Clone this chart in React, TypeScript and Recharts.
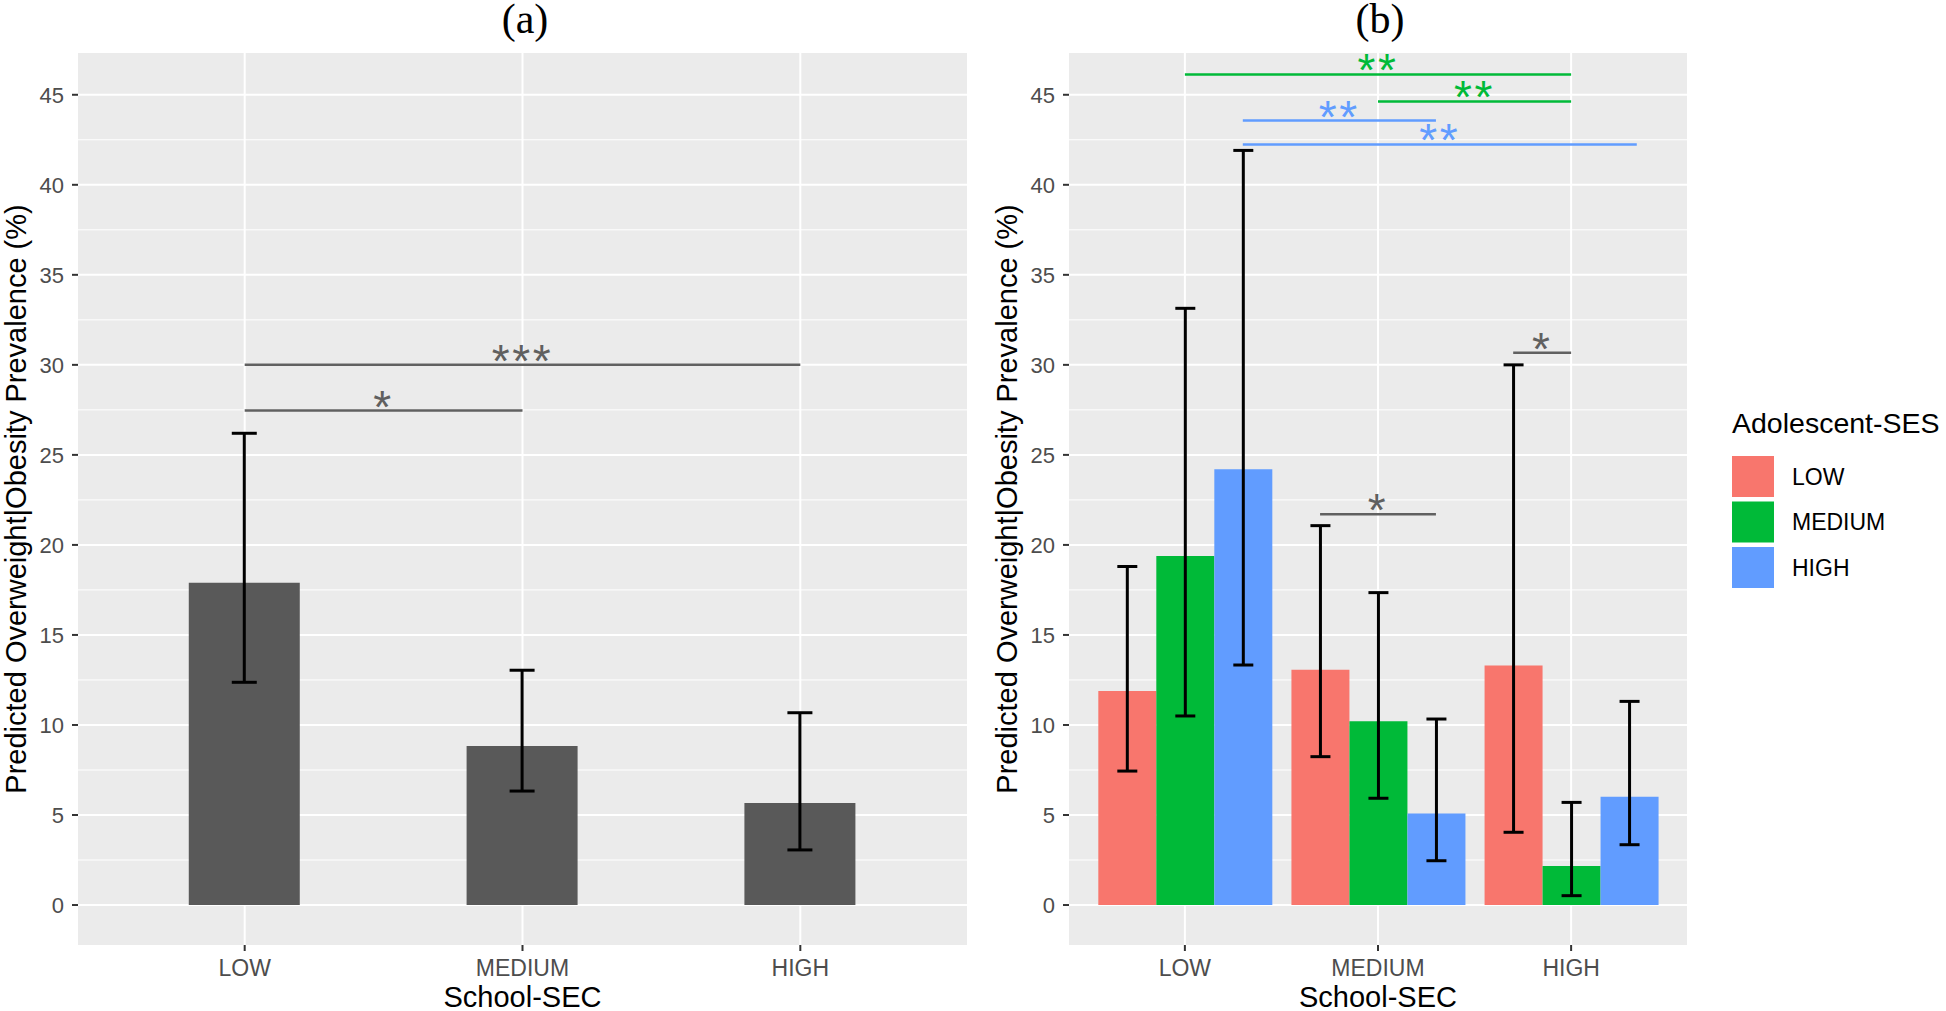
import React from "react";
import { Bar, CartesianGrid, ComposedChart, ErrorBar, Label, ReferenceLine, XAxis, YAxis } from "recharts";

const SANS = '"Liberation Sans", Arial, Helvetica, sans-serif';
const SERIF = '"Liberation Serif", "Times New Roman", serif';

// categories
const SCHOOL_SEC = ["LOW", "MEDIUM", "HIGH"];
const SCHOOL_X = [1, 2, 3];
const SES = ["LOW", "MEDIUM", "HIGH"];

// axis ticks
const Y_MAJOR = [0, 5, 10, 15, 20, 25, 30, 35, 40, 45];
const Y_MINOR = [2.5, 7.5, 12.5, 17.5, 22.5, 27.5, 32.5, 37.5, 42.5];

// (a) overall predicted prevalence + 95% CI
const overallPred = [17.9, 8.83, 5.67];
const overallLow = [12.37, 6.33, 3.06];
const overallHigh = [26.2, 13.04, 10.68];

// (b) by adolescent SES
const lowSesPred = [11.89, 13.06, 13.3];
const lowSesLow = [7.44, 8.24, 4.04];
const lowSesHigh = [18.8, 21.07, 30.0];
const medSesPred = [19.39, 10.2, 2.17];
const medSesLow = [10.5, 5.93, 0.52];
const medSesHigh = [33.14, 17.35, 5.7];
const highSesPred = [24.2, 5.09, 6.02];
const highSesLow = [13.33, 2.46, 3.35];
const highSesHigh = [41.91, 10.33, 11.31];

// significance brackets (xmin/xmax on the School-SEC axis, ses: which colour group, -1 = none)
const bracketsA = [
  { xmin: 1, xmax: 2, y: 27.46, label: "*", ses: -1 },
  { xmin: 1, xmax: 3, y: 30.0, label: "***", ses: -1 },
];
const bracketsB = [
  { xmin: 1, xmax: 3, y: 46.13, label: "**", ses: 1 },
  { xmin: 2, xmax: 3, y: 44.63, label: "**", ses: 1 },
  { xmin: 1.3, xmax: 2.3, y: 43.57, label: "**", ses: 2 },
  { xmin: 1.3, xmax: 3.34, y: 42.24, label: "**", ses: 2 },
  { xmin: 2.7, xmax: 3.0, y: 30.67, label: "*", ses: -1 },
  { xmin: 1.7, xmax: 2.3, y: 21.7, label: "*", ses: -1 },
];

const SES_COLORS = ["#F8766D", "#00BA38", "#619CFF"];
const GREY_BAR = "#595959";
const GREY_SIG = "#606060";
const PANEL_BG = "#EBEBEB";
const Y_DOMAIN: [number, number] = [-2.22, 47.32];
const X_DOMAIN: [number, number] = [0.4, 3.6];

const errOf = (p: number, lo: number, hi: number) => [p - lo, hi - p];

const dataA = SCHOOL_SEC.map((name, i) => ({
  x: SCHOOL_X[i],
  name,
  pred: overallPred[i],
  err: errOf(overallPred[i], overallLow[i], overallHigh[i]),
}));

const dataB = SCHOOL_SEC.map((name, i) => ({
  x: SCHOOL_X[i],
  name,
  low: lowSesPred[i],
  lowErr: errOf(lowSesPred[i], lowSesLow[i], lowSesHigh[i]),
  med: medSesPred[i],
  medErr: errOf(medSesPred[i], medSesLow[i], medSesHigh[i]),
  high: highSesPred[i],
  highErr: errOf(highSesPred[i], highSesLow[i], highSesHigh[i]),
}));

const starLabel = (text: string, color: string) => (props: any) => {
  const vb = props.viewBox || {};
  return (
    <text
      x={vb.x + vb.width / 2}
      y={vb.y + 12}
      textAnchor="middle"
      fill={color}
      fontSize={46}
      letterSpacing={2.6}
      fontFamily={SANS}
    >
      {text}
    </text>
  );
};

const yTitle = (props: any) => {
  const vb = props.viewBox || {};
  const cx = vb.x + vb.width - 62;
  const cy = vb.y + vb.height / 2;
  return (
    <text
      x={cx}
      y={cy}
      transform={`rotate(-90, ${cx}, ${cy})`}
      textAnchor="middle"
      dominantBaseline="central"
      fontSize={29}
      fill="#000"
      fontFamily={SANS}
    >
      Predicted Overweight|Obesity Prevalence (%)
    </text>
  );
};

const xTitle = (props: any) => {
  const vb = props.viewBox || {};
  return (
    <text x={vb.x + vb.width / 2} y={vb.y + vb.height - 4} textAnchor="middle" fontSize={29} fill="#000" fontFamily={SANS}>
      School-SEC
    </text>
  );
};

function axes(yWidth: number) {
  return [
    <CartesianGrid key="gmin" fill={PANEL_BG} stroke="#fff" strokeWidth={1} vertical={false} horizontalValues={Y_MINOR} />,
    <CartesianGrid key="gmaj" stroke="#fff" strokeWidth={2} horizontalValues={Y_MAJOR} verticalValues={SCHOOL_X} />,
    <XAxis
      key="x"
      type="number"
      dataKey="x"
      domain={X_DOMAIN}
      ticks={SCHOOL_X}
      interval={0}
      allowDataOverflow
      tickFormatter={(v) => SCHOOL_SEC[v - 1]}
      height={66}
      tickSize={6}
      tickMargin={9}
      axisLine={false}
      tickLine={{ stroke: "#333", strokeWidth: 2 }}
      tick={{ fontSize: 23, fill: "#4d4d4d", fontFamily: SANS }}
    >
      <Label content={xTitle} />
    </XAxis>,
    <YAxis
      key="y"
      type="number"
      domain={Y_DOMAIN}
      ticks={Y_MAJOR}
      interval={0}
      allowDataOverflow
      width={yWidth}
      tickSize={6}
      tickMargin={8}
      axisLine={false}
      tickLine={{ stroke: "#333", strokeWidth: 2 }}
      tick={{ fontSize: 22, fill: "#4d4d4d", fontFamily: SANS }}
    >
      <Label content={yTitle} />
    </YAxis>,
  ];
}

function brackets(list: typeof bracketsA) {
  return list.map((b, i) => {
    const color = b.ses < 0 ? GREY_SIG : SES_COLORS[b.ses];
    return (
      <ReferenceLine
        key={`br${i}`}
        segment={[
          { x: b.xmin, y: b.y },
          { x: b.xmax, y: b.y },
        ]}
        stroke={color}
        strokeWidth={2.5}
        ifOverflow="visible"
        label={starLabel(b.label, color)}
      />
    );
  });
}

function PanelA() {
  return (
    <ComposedChart width={980} height={1011} data={dataA} margin={{ top: 53, right: 13, bottom: 0, left: 0 }}>
      {axes(78)}
      <Bar dataKey="pred" fill={GREY_BAR} barSize={111} isAnimationActive={false}>
        <ErrorBar dataKey="err" direction="y" width={12.5} stroke="#000" strokeWidth={3} />
      </Bar>
      {brackets(bracketsA)}
    </ComposedChart>
  );
}

function PanelB() {
  return (
    <ComposedChart width={966} height={1011} data={dataB} barGap={0} margin={{ top: 53, right: 259, bottom: 0, left: 0 }}>
      {axes(89)}
      <Bar dataKey="low" name={SES[0]} fill={SES_COLORS[0]} barSize={58} isAnimationActive={false}>
        <ErrorBar dataKey="lowErr" direction="y" width={10} stroke="#000" strokeWidth={3} />
      </Bar>
      <Bar dataKey="med" name={SES[1]} fill={SES_COLORS[1]} barSize={58} isAnimationActive={false}>
        <ErrorBar dataKey="medErr" direction="y" width={10} stroke="#000" strokeWidth={3} />
      </Bar>
      <Bar dataKey="high" name={SES[2]} fill={SES_COLORS[2]} barSize={58} isAnimationActive={false}>
        <ErrorBar dataKey="highErr" direction="y" width={10} stroke="#000" strokeWidth={3} />
      </Bar>
      {brackets(bracketsB)}
    </ComposedChart>
  );
}

function Overlay() {
  return (
    <svg width={1946} height={1011} style={{ position: "absolute", left: 0, top: 0, pointerEvents: "none" }}>
      <text x={525} y={32.5} textAnchor="middle" fontFamily={SERIF} fontSize={42} fill="#000">(a)</text>
      <text x={1380} y={32.5} textAnchor="middle" fontFamily={SERIF} fontSize={42} fill="#000">(b)</text>
      <text x={1732} y={433} fontFamily={SANS} fontSize={28.5} fill="#000">Adolescent-SES</text>
      {SES.map((s, i) => (
        <g key={s}>
          <rect x={1732} y={456 + i * 45.5} width={42} height={41} fill={SES_COLORS[i]} />
          <text x={1792} y={476.5 + i * 45.5} dominantBaseline="central" fontFamily={SANS} fontSize={23} fill="#000">
            {s}
          </text>
        </g>
      ))}
    </svg>
  );
}

export default function App() {
  return (
    <div style={{ position: "absolute", left: 0, top: 0, width: 1946, height: 1011, background: "#fff", fontFamily: SANS }}>
      <div style={{ position: "absolute", left: 0, top: 0 }}>
        <PanelA />
      </div>
      <div style={{ position: "absolute", left: 980, top: 0 }}>
        <PanelB />
      </div>
      <Overlay />
    </div>
  );
}
